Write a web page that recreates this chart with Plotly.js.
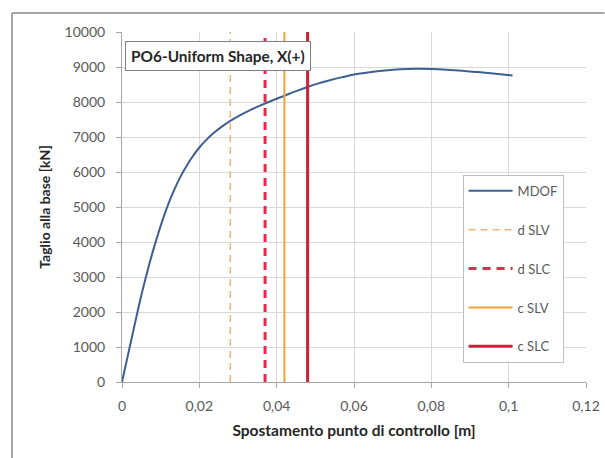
<!DOCTYPE html>
<html>
<head>
<meta charset="utf-8">
<script src="https://cdn.plot.ly/plotly-3.0.1.min.js"></script>
<style>
  html, body { margin: 0; padding: 0; background: #ffffff; }
  #chart { width: 605px; height: 458px; }
</style>
</head>
<body>
<div id="chart"></div>
<script>
// Pushover curve: base shear vs control-point displacement
const displacement = [0, 0.001, 0.002, 0.003, 0.004, 0.005, 0.006, 0.007, 0.008, 0.009,
                      0.010, 0.011, 0.012, 0.013, 0.014, 0.015, 0.016, 0.018, 0.020, 0.022,
                      0.024, 0.026, 0.028, 0.030, 0.033, 0.036, 0.039, 0.042, 0.045, 0.048,
                      0.051, 0.054, 0.057, 0.060, 0.064, 0.068, 0.072, 0.076, 0.080, 0.084,
                      0.088, 0.092, 0.096, 0.101];
const baseShear = [0, 500, 1000, 1500, 2000, 2480, 2920, 3340, 3740, 4110,
                   4460, 4790, 5090, 5360, 5610, 5840, 6040, 6400, 6700, 6940,
                   7140, 7310, 7460, 7590, 7760, 7910, 8050, 8180, 8310, 8430,
                   8540, 8630, 8710, 8785, 8850, 8900, 8935, 8950, 8945, 8925,
                   8895, 8855, 8815, 8760];

// Limit-state displacements (demand d / capacity c)
const limitNames = ['d SLV', 'd SLC', 'c SLV', 'c SLC'];
const limitX = [0.028, 0.037, 0.042, 0.048];
const limitSpan = [0, 10000];

const limitStyles = [
  {color: '#f5b46e', width: 1.5, dash: '7px,5px'},
  {color: '#e52b45', width: 3, dash: '8px,6px'},
  {color: '#f0a236', width: 2, dash: 'solid'},
  {color: '#d21f38', width: 3, dash: 'solid'}
];

const traces = [{
  x: displacement, y: baseShear, type: 'scatter', mode: 'lines', name: 'MDOF',
  legendgroup: 'g0',
  line: {color: '#3f5f91', width: 2, shape: 'spline', smoothing: 1}
}];
limitNames.forEach((nm, i) => {
  traces.push({
    x: [limitX[i], limitX[i]], y: limitSpan, type: 'scatter', mode: 'lines',
    name: nm, legendgroup: 'g' + (i + 1), line: limitStyles[i]
  });
});

const font = 'Lato, "Open Sans", sans-serif';

const layout = {
  width: 605, height: 458,
  margin: {l: 121.5, r: 18.5, t: 31.7, b: 76.3},
  paper_bgcolor: '#ffffff', plot_bgcolor: '#ffffff',
  separators: ', ',
  font: {family: font, size: 13, color: '#595959'},
  showlegend: true,
  legend: {
    x: 0.734, y: 0.592, xanchor: 'left', yanchor: 'top',
    bgcolor: '#ffffff', bordercolor: '#bfbfbf', borderwidth: 1,
    font: {family: font, size: 13, color: '#595959'},
    tracegroupgap: 19, itemwidth: 44,
    traceorder: 'grouped'
  },
  xaxis: {
    range: [0, 0.12], dtick: 0.02, tick0: 0, automargin: 'bottom',
    showgrid: true, gridcolor: '#d9d9d9', gridwidth: 1,
    zeroline: false, showline: true, linecolor: '#a6a6a6', linewidth: 1,
    ticks: 'outside', ticklen: 5, tickcolor: '#a6a6a6', ticklabelstandoff: 6,
    tickfont: {family: font, size: 14, color: '#595959'},
    title: {text: 'Spostamento punto di controllo [m]', standoff: 12,
            font: {family: font, size: 15.5, color: '#262626', weight: 'bold'}}
  },
  yaxis: {
    range: [0, 10000], dtick: 1000, tick0: 0, tickformat: 'd', automargin: 'left',
    showgrid: true, gridcolor: '#d9d9d9', gridwidth: 1,
    zeroline: false, showline: true, linecolor: '#a6a6a6', linewidth: 1,
    ticks: 'outside', ticklen: 5, tickcolor: '#a6a6a6', ticklabelstandoff: 8,
    tickfont: {family: font, size: 14, color: '#595959'},
    title: {text: 'Taglio alla base [kN]', standoff: 10,
            font: {family: font, size: 14, color: '#262626', weight: 'bold'}}
  },
  annotations: [{
    xref: 'paper', yref: 'paper', x: 0.006, y: 0.975,
    xanchor: 'left', yanchor: 'top', showarrow: false,
    text: '<b>PO6-Uniform Shape, X(+)</b>',
    font: {family: font, size: 15.4, color: '#262626'},
    bgcolor: '#ffffff', bordercolor: '#7f7f7f', borderwidth: 1, borderpad: 5
  }],
  shapes: [
    {type: 'line', xref: 'paper', yref: 'paper', x0: -0.237, x1: 1.04, y0: 1.054, y1: 1.054,
     line: {color: '#a6a6a6', width: 2}},
    {type: 'line', xref: 'paper', yref: 'paper', x0: -0.237, x1: -0.237, y0: 1.054, y1: -0.22,
     line: {color: '#a6a6a6', width: 2}}
  ]
};

Plotly.newPlot('chart', traces, layout, {displayModeBar: false, staticPlot: true});
</script>
</body>
</html>
